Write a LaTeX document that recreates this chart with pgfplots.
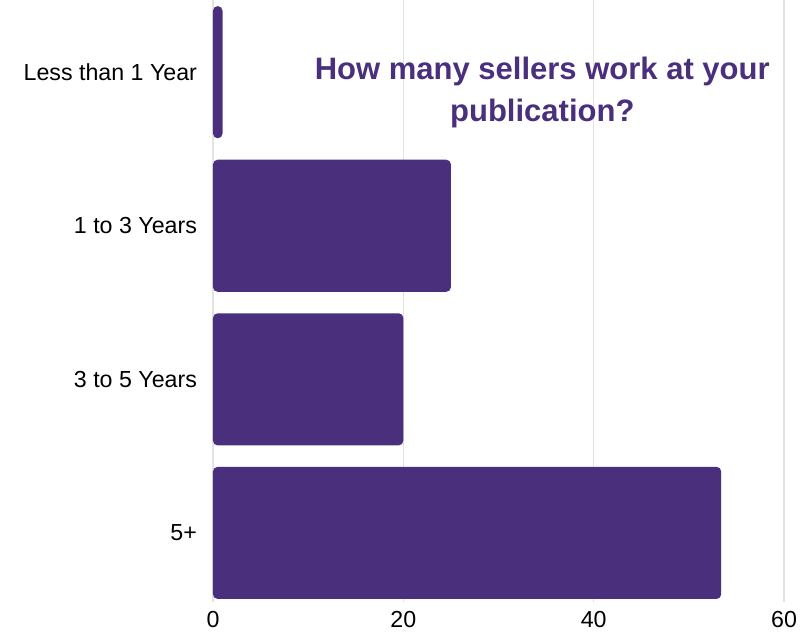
\documentclass[border=0pt]{standalone}
\usepackage{pgfplots}
\pgfplotsset{compat=1.18}
\usepackage{fontspec}
\setmainfont{Liberation Sans}
\definecolor{barpurple}{HTML}{4A2F7D}
\begin{document}
\begin{tikzpicture}
\begin{axis}[
  name=ax,
  scale only axis, width=285.5pt, height=301pt,
  xbar, bar width=0.86,
  xmin=0, xmax=60, ymin=-0.47, ymax=3.45, y dir=reverse,
  xtick={0,20,40,60}, ytick={0,1,2,3},
  yticklabels={Less than 1 Year, 1 to 3 Years, 3 to 5 Years, 5+},
  xmajorgrids, grid style={gray!22, line width=0.6pt},
  axis line style={draw=none},
  major tick length=0pt,
  tick label style={font=\fontsize{11.6}{14}\selectfont, black},
  yticklabel style={xshift=-4.5pt},
  xticklabel style={yshift=-1pt},
  /pgf/number format/assume math mode=true,
]
\addplot[fill=barpurple, draw=none, rounded corners=2.3pt] coordinates {(1,0) (25,1) (20,2) (53.4,3)};
\node[align=center, text=barpurple, font=\fontsize{15.5}{21}\selectfont\bfseries] at (axis cs:34.6,0.13) {How many sellers work at your\\publication?};
\end{axis}
\pgfresetboundingbox
\path[use as bounding box] ([xshift=-106.5pt,yshift=-15.5pt]ax.south west) rectangle ([xshift=13.5pt]ax.north east);
\end{tikzpicture}
\end{document}
